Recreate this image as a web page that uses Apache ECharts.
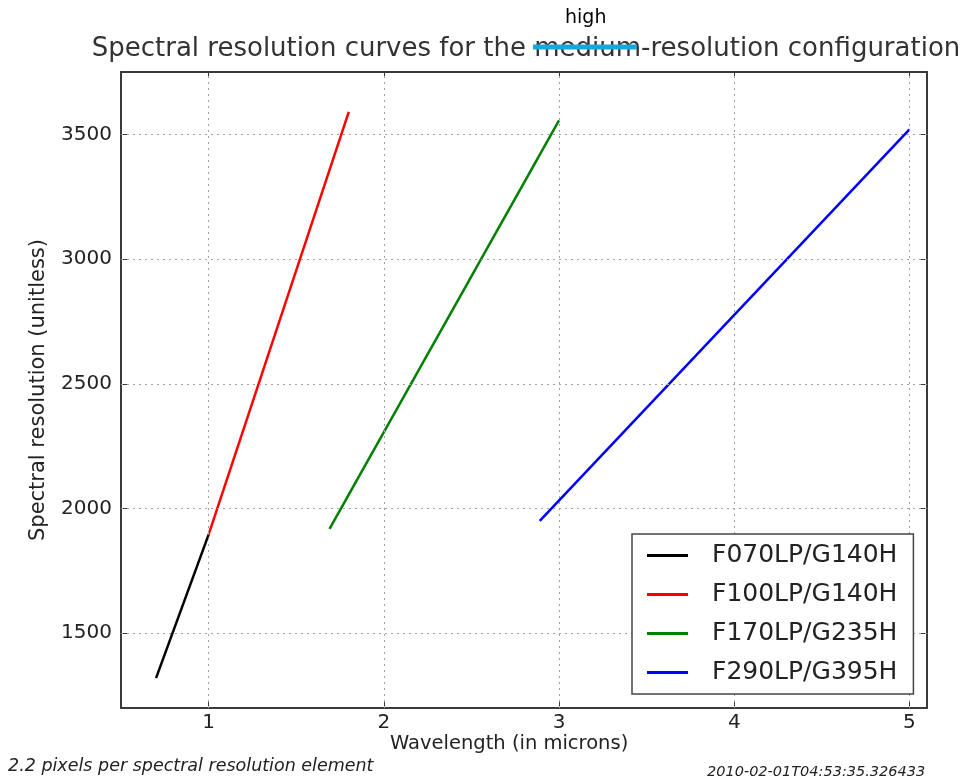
<!DOCTYPE html>
<html>
<head>
<meta charset="utf-8">
<script src="https://cdn.jsdelivr.net/npm/echarts@6/dist/echarts.min.js"></script>
<style>
  html, body { margin: 0; padding: 0; background: #fff; }
  #chartContainer { width: 961px; height: 781px; }
</style>
</head>
<body>
<div id="chartContainer"></div>
<script>
// curves: [wavelength (micron), resolution]
const seriesNames = ['F070LP/G140H', 'F100LP/G140H', 'F170LP/G235H', 'F290LP/G395H'];
const seriesColors = ['#000000', '#ff0000', '#008000', '#0000ff'];
const f070 = [[0.70, 1320], [1.00, 1895]];
const f100 = [[1.00, 1895], [1.80, 3590]];
const f170 = [[1.69, 1918], [3.00, 3556]];
const f290 = [[2.89, 1950], [5.00, 3520]];
const xTicks = [1, 2, 3, 4, 5];
const yTicks = [1500, 2000, 2500, 3000, 3500];

const FONT = 'DejaVu Sans';
let chart = null;

document.addEventListener('DOMContentLoaded', function() {
    chart = echarts.init(document.getElementById('chartContainer'));
    drawChart();
});

function drawChart() {
    const data = [f070, f100, f170, f290];
    const frame = { show: true, lineStyle: { color: '#3a3a3a', width: 2 } };
    const xTick = { show: true, inside: true, length: 6, customValues: xTicks, lineStyle: { color: '#3a3a3a' } };
    const yTick = { show: true, inside: true, length: 6, customValues: yTicks, lineStyle: { color: '#3a3a3a' } };

    const series = data.map((d, i) => ({
        name: seriesNames[i],
        type: 'line',
        data: d,
        symbol: 'none',
        lineStyle: { color: seriesColors[i], width: 2.5 },
        itemStyle: { color: seriesColors[i] },
        z: 3
    }));

    // dotted grid at the labelled ticks
    series.push({
        type: 'line', data: [], silent: true, z: 1,
        markLine: {
            silent: true, symbol: 'none', label: { show: false },
            lineStyle: { color: '#a0a0a0', type: [2, 4], width: 1 },
            data: xTicks.map(v => ({ xAxis: v })).concat(yTicks.map(v => ({ yAxis: v })))
        }
    });

    const option = {
        backgroundColor: '#fff',
        animation: false,
        title: {
            text: 'Spectral resolution curves for the medium-resolution configuration',
            left: 521, top: 31, textAlign: 'center',
            textStyle: { fontFamily: FONT, fontSize: 26, fontWeight: 'normal', color: '#333' }
        },
        legend: {
            data: seriesNames,
            orient: 'vertical',
            left: 632, top: 534,
            z: 20,
            backgroundColor: '#fff',
            borderColor: '#444', borderWidth: 1.5,
            padding: [9, 16, 9, 15],
            itemGap: 14,
            icon: 'rect',
            itemWidth: 41, itemHeight: 3,
            textStyle: { fontFamily: FONT, fontSize: 25, lineHeight: 25, color: '#222', padding: [0, 0, 0, 19] }
        },
        grid: { left: 121, top: 72, width: 806, height: 636, containLabel: false },
        xAxis: [{
            type: 'value', min: 0.5, max: 5.1,
            axisLine: frame, axisTick: xTick,
            axisLabel: { fontFamily: FONT, fontSize: 20, color: '#222', margin: 5, customValues: xTicks, formatter: v => String(v) },
            splitLine: { show: false }
        }, {
            type: 'value', position: 'top', min: 0.5, max: 5.1,
            axisLine: frame, axisTick: xTick, axisLabel: { show: false }, splitLine: { show: false }
        }],
        yAxis: [{
            type: 'value', min: 1200, max: 3750,
            name: 'Spectral resolution (unitless)',
            nameLocation: 'middle', nameGap: 72,
            nameTextStyle: { fontFamily: FONT, fontSize: 21, color: '#222' },
            axisLine: frame, axisTick: yTick,
            axisLabel: { fontFamily: FONT, fontSize: 20, color: '#222', margin: 9, customValues: yTicks, formatter: v => String(v) },
            splitLine: { show: false }
        }, {
            type: 'value', position: 'right', min: 1200, max: 3750,
            axisLine: frame, axisTick: yTick, axisLabel: { show: false }, splitLine: { show: false }
        }],
        series: series,
        graphic: [
            { type: 'text', left: 565, top: 9, style: { text: 'high', font: '19px "DejaVu Sans"', fill: '#000' } },
            { type: 'line', shape: { x1: 533, y1: 47, x2: 637, y2: 47 }, style: { stroke: '#1aa5de', lineWidth: 5 }, z: 10 },
            { type: 'text', left: 390, top: 734, style: { text: 'Wavelength (in microns)', font: '19.5px "DejaVu Sans"', fill: '#222' } },
            { type: 'text', left: 8, top: 757, style: { text: '2.2 pixels per spectral resolution element', font: 'italic 17.5px "DejaVu Sans"', fill: '#222' } },
            { type: 'text', left: 707, top: 765, style: { text: '2010-02-01T04:53:35.326433', font: 'italic 14.5px "DejaVu Sans"', fill: '#222' } }
        ]
    };

    chart.setOption(option);
}
</script>
</body>
</html>
